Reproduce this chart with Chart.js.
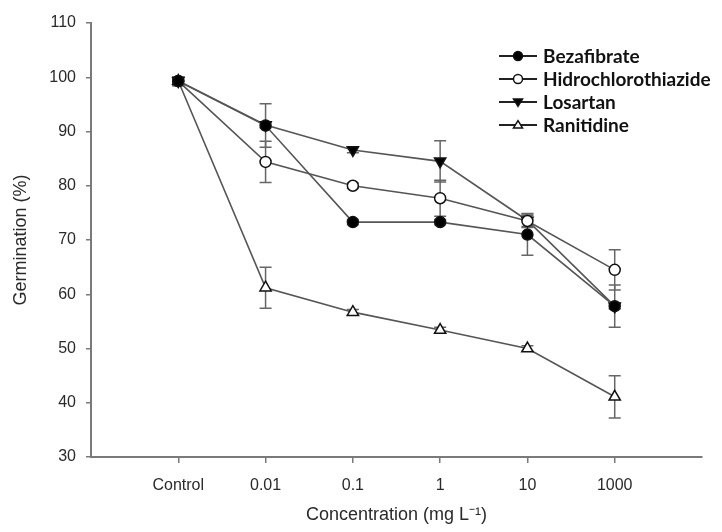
<!DOCTYPE html>
<html>
<head>
<meta charset="utf-8">
<script src="https://cdn.jsdelivr.net/npm/chart.js@4.4.1/dist/chart.umd.min.js"></script>
<style>
  html, body { margin: 0; padding: 0; background: #fff; }
  #chart { display: block; }
</style>
</head>
<body>
<canvas id="chart" width="722" height="532"></canvas>
<script>
'use strict';

// Concentration categories (x axis)
const concentrations = ['Control', '0.01', '0.1', '1', '10', '1000'];

// Germination (%) per drug, with error
const bezafibrate    = [99.3, 91.1, 73.3, 73.3, 71.0, 57.8];
const bezafibrateErr = [0.8, 4.0, 0.5, 0.5, 3.8, 3.9];

const hidrochlorothiazide    = [99.3, 84.4, 80.0, 77.7, 73.5, 64.5];
const hidrochlorothiazideErr = [0.8, 3.8, 0.5, 3.3, 1.0, 3.7];

const losartan    = [99.3, 91.2, 86.6, 84.5, 73.6, 57.8];
const losartanErr = [0.8, 0.5, 0.5, 3.8, 1.3, 0.5];

const ranitidine    = [99.3, 61.2, 56.7, 53.4, 50.0, 41.1];
const ranitidineErr = [0.8, 3.8, 0.5, 0.5, 0.5, 3.9];

const yTicks = [30, 40, 50, 60, 70, 80, 90, 100, 110];

const axisColor = '#7a7a7a';
const lineColor = '#555';

function toPoints(values){
	return values.map(function(v, i){ return { x: i, y: v }; });
}

function series(label, values, errors, style, rotation, fill){
	return {
		label: label,
		data: toPoints(values),
		errors: errors,
		borderColor: lineColor,
		borderWidth: 1.6,
		pointStyle: style,
		rotation: rotation,
		pointRadius: style === 'circle' ? 5.5 : 6.5,
		pointBorderColor: '#111',
		pointBorderWidth: 1.5,
		pointBackgroundColor: fill,
		tension: 0
	};
}

// Vertical error bars with caps, drawn under the markers
const errorBars = {
	id: 'errorBars',
	beforeDatasetsDraw: function(chart){
		const ctx = chart.ctx;
		const xs = chart.scales.x, ys = chart.scales.y;
		ctx.save();
		ctx.strokeStyle = '#666';
		ctx.lineWidth = 1.5;
		chart.data.datasets.forEach(function(ds){
			ds.data.forEach(function(p, i){
				const e = ds.errors[i];
				const x = xs.getPixelForValue(p.x);
				const yTop = ys.getPixelForValue(p.y + e);
				const yBot = ys.getPixelForValue(p.y - e);
				ctx.beginPath();
				ctx.moveTo(x, yTop); ctx.lineTo(x, yBot);
				ctx.moveTo(x - 6, yTop); ctx.lineTo(x + 6, yTop);
				ctx.moveTo(x - 6, yBot); ctx.lineTo(x + 6, yBot);
				ctx.stroke();
			});
		});
		ctx.restore();
	}
};

function drawMarker(ctx, style, rotation, x, y, r, fill){
	ctx.beginPath();
	if( style === 'circle' ){
		ctx.arc(x, y, r, 0, Math.PI * 2);
	} else {
		const dir = rotation === 180 ? -1 : 1;
		const h = r * 1.6;
		ctx.moveTo(x, y - dir * h * 0.6);
		ctx.lineTo(x + r, y + dir * h * 0.4);
		ctx.lineTo(x - r, y + dir * h * 0.4);
		ctx.closePath();
	}
	ctx.fillStyle = fill;
	ctx.fill();
	ctx.stroke();
}

// Legend with a line segment through each marker
const lineLegend = {
	id: 'lineLegend',
	afterDraw: function(chart){
		const ctx = chart.ctx;
		const x0 = 499, x1 = 537, tx = 543;
		ctx.save();
		chart.data.datasets.forEach(function(ds, i){
			const y = 56 + i * 23;
			ctx.strokeStyle = '#222';
			ctx.lineWidth = 1.8;
			ctx.beginPath();
			ctx.moveTo(x0, y); ctx.lineTo(x1, y);
			ctx.stroke();
			ctx.strokeStyle = '#111';
			ctx.lineWidth = 1.5;
			drawMarker(ctx, ds.pointStyle, ds.rotation, (x0 + x1) / 2, y, 4.5, ds.pointBackgroundColor);
			ctx.fillStyle = '#111';
			ctx.font = 'bold 19px Lato';
			ctx.textBaseline = 'middle';
			ctx.fillText(ds.label, tx, y + 1);
		});
		ctx.restore();
	}
};

new Chart(document.getElementById('chart'), {
	type: 'line',
	data: {
		datasets: [
			series('Bezafibrate', bezafibrate, bezafibrateErr, 'circle', 0, '#000'),
			series('Hidrochlorothiazide', hidrochlorothiazide, hidrochlorothiazideErr, 'circle', 0, '#fff'),
			series('Losartan', losartan, losartanErr, 'triangle', 180, '#000'),
			series('Ranitidine', ranitidine, ranitidineErr, 'triangle', 0, '#fff')
		]
	},
	options: {
		responsive: false,
		animation: false,
		layout: {
			padding: { left: 0, top: 23, right: 20, bottom: 0 }
		},
		plugins: {
			legend: { display: false },
			tooltip: { enabled: false }
		},
		scales: {
			x: {
				type: 'linear',
				min: -1,
				max: 6,
				afterFit: function(scale){ scale.height = 75; },
				afterBuildTicks: function(scale){
					scale.ticks = concentrations.map(function(_, i){ return { value: i }; });
				},
				grid: { display: true, drawOnChartArea: false, tickLength: 6, color: axisColor, lineWidth: 1.5 },
				border: { display: true, color: axisColor, width: 2 },
				ticks: {
					padding: 13,
					color: '#2a2a2a',
					font: { family: 'Liberation Sans', size: 16 },
					callback: function(value){ return concentrations[value]; }
				},
				title: {
					display: true,
					text: 'Concentration (mg L\u207B\u00B9)',
					color: '#2a2a2a',
					font: { family: 'Liberation Sans', size: 18 },
					padding: { top: 0, bottom: 6 }
				}
			},
			y: {
				min: 30,
				max: 110,
				afterFit: function(scale){ scale.width = 91; },
				afterBuildTicks: function(scale){
					scale.ticks = yTicks.map(function(v){ return { value: v }; });
				},
				grid: { display: true, drawOnChartArea: false, tickLength: 5, color: axisColor, lineWidth: 1.5 },
				border: { display: true, color: axisColor, width: 2 },
				ticks: {
					padding: 10,
					color: '#2a2a2a',
					font: { family: 'Liberation Sans', size: 16 }
				},
				title: {
					display: true,
					text: 'Germination (%)',
					color: '#2a2a2a',
					font: { family: 'Liberation Sans', size: 18 },
					padding: { top: 10, bottom: 0 }
				}
			}
		}
	},
	plugins: [errorBars, lineLegend]
});
</script>
</body>
</html>
